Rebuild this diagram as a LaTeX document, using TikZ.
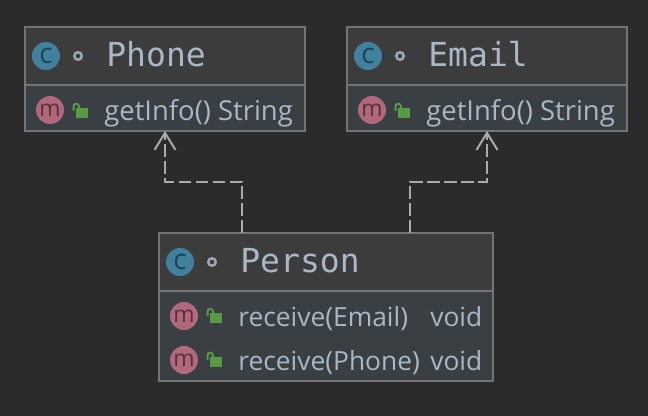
\documentclass[tikz,border=0pt]{standalone}
\usepackage{fontspec}
\setmainfont{Open Sans}
\newfontfamily\namefont{DejaVu Sans Mono}
\usetikzlibrary{arrows.meta,positioning}

\definecolor{bgcol}{HTML}{2B2B2B}
\definecolor{headcol}{HTML}{3C3C3C}
\definecolor{bodycol}{HTML}{3A3F43}
\definecolor{edgecol}{HTML}{747474}
\definecolor{textcol}{HTML}{A9B7C6}
\definecolor{ccol}{HTML}{40829E}
\definecolor{ctextcol}{HTML}{1F4656}
\definecolor{mcol}{HTML}{B0687C}
\definecolor{mtextcol}{HTML}{5A2E3A}
\definecolor{lockcol}{HTML}{5A9A46}
\definecolor{depcol}{HTML}{ABABAB}

\tikzset{
    head/.style={draw=edgecol, fill=headcol, line width=0.035cm, inner sep=0, outer sep=0, minimum height=1.16cm},
    body/.style={draw=edgecol, fill=bodycol, line width=0.035cm, inner sep=0, outer sep=0},
    badge/.style={circle, inner sep=0, minimum size=0.56cm},
    cbadge/.style={badge, fill=ccol, text=ctextcol, font=\fontsize{16}{16}\selectfont},
    mbadge/.style={badge, fill=mcol, text=mtextcol, font=\fontsize{13}{13}\selectfont},
    dot/.style={circle, draw=textcol!70!gray, line width=0.05cm, inner sep=0, minimum size=0.15cm},
    classname/.style={anchor=base west, inner sep=0, text=textcol, font=\namefont\fontsize{18.8}{19}\selectfont},
    member/.style={anchor=base west, inner sep=0, text=textcol, font=\fontsize{15}{15}\selectfont},
    widemember/.style={member, font=\fontsize{15.6}{15.6}\selectfont},
    dep/.style={draw=depcol, line width=0.04cm, dash pattern=on 0.25cm off 0.09cm, -{Straight Barb[length=0.34cm,width=0.42cm,line width=0.04cm]}},
    lockicon/.pic={
        \fill[lockcol] (0,0) rectangle (0.24,-0.2);
        \draw[lockcol, line width=0.04cm] (-0.05,-0.06) -- (-0.05,0.03) arc (180:0:0.055) -- (0.06,0);
    }
}

\begin{document}
\begin{tikzpicture}
    \useasboundingbox (0,0) rectangle (12.96,-8.32);
    \fill[bgcol] (0,0) rectangle (12.96,-8.32);

    % The boxes
    \node[head, minimum width=5.6cm] (phonehead) at (3.3,-1.12) {};
    \node[body, minimum width=5.6cm, minimum height=0.92cm, below=0pt of phonehead] (phonebody) {};

    \node[head, minimum width=5.6cm] (emailhead) at (9.74,-1.12) {};
    \node[body, minimum width=5.6cm, minimum height=0.92cm, below=0pt of emailhead] (emailbody) {};

    \node[head, minimum width=6.68cm] (personhead) at (6.52,-5.24) {};
    \node[body, minimum width=6.68cm, minimum height=1.8cm, below=0pt of personhead] (personbody) {};

    % The class rows
    \node[cbadge] (phoneC) at (0.92,-1.12) {c};
    \node[dot] (phoneDot) at (1.56,-1.12) {};
    \node[classname] (phoneName) at (2.12,-1.34) {Phone};

    \node[cbadge] (emailC) at (7.36,-1.12) {c};
    \node[dot] (emailDot) at (8.0,-1.12) {};
    \node[classname] (emailName) at (8.56,-1.34) {Email};

    \node[cbadge] (personC) at (3.6,-5.24) {c};
    \node[dot] (personDot) at (4.24,-5.24) {};
    \node[classname] (personName) at (4.8,-5.46) {Person};

    % The method rows
    \node[mbadge] (phoneM) at (1.0,-2.2) {m};
    \pic at (1.52,-2.16) {lockicon};
    \node[widemember] (phoneInfo) at (2.08,-2.42) {getInfo() String};

    \node[mbadge] (emailM) at (7.44,-2.2) {m};
    \pic at (7.96,-2.16) {lockicon};
    \node[widemember] (emailInfo) at (8.52,-2.42) {getInfo() String};

    \node[mbadge] (receiveM) at (3.68,-6.32) {m};
    \pic at (4.2,-6.26) {lockicon};
    \node[member] (receiveEmail) at (4.76,-6.54) {receive(Email)};
    \node[member] (receiveEmailType) at (8.6,-6.54) {void};

    \node[mbadge] (receiveP) at (3.68,-7.2) {m};
    \pic at (4.2,-7.14) {lockicon};
    \node[member] (receivePhone) at (4.76,-7.42) {receive(Phone)};
    \node[member] (receivePhoneType) at (8.6,-7.42) {void};

    % The dependencies
    \draw[dep] ([xshift=-1.68cm]personhead.north) -- ++(0,1.02) -| (phonebody.south);
    \draw[dep] ([xshift=1.68cm]personhead.north) -- ++(0,1.02) -| (emailbody.south);
\end{tikzpicture}
\end{document}
